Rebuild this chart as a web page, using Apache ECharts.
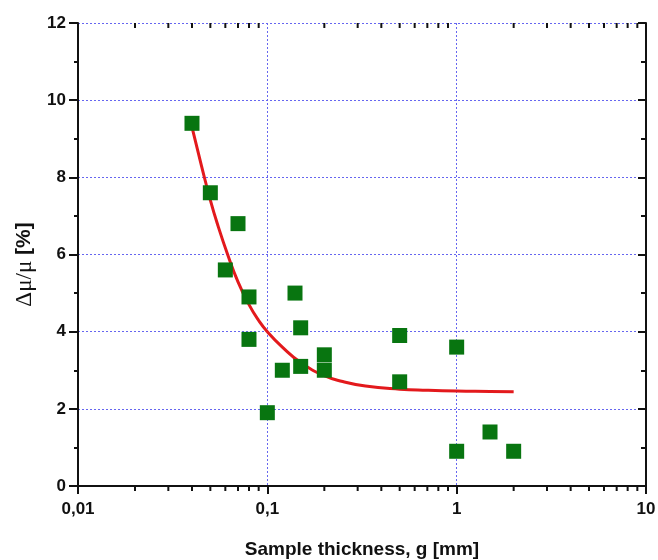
<!DOCTYPE html>
<html>
<head>
<meta charset="utf-8">
<script src="https://cdn.jsdelivr.net/npm/echarts@6/dist/echarts.min.js"></script>
<style>
html, body { margin: 0; padding: 0; background: #fff; }
#main { width: 658px; height: 560px; }
</style>
</head>
<body>
<div id="main"></div>
<script>
// measured points (thickness mm, delta mu / mu %)
var thickness = [0.04, 0.05, 0.07, 0.06, 0.08, 0.08, 0.1, 0.12, 0.14, 0.15, 0.15, 0.2, 0.2, 0.5, 0.5, 1, 1, 1.5, 2];
var deltaMu = [9.4, 7.6, 6.8, 5.6, 4.9, 3.8, 1.9, 3.0, 5.0, 4.1, 3.1, 3.4, 3.0, 3.9, 2.7, 3.6, 0.9, 1.4, 0.9];

// fitted curve
var fitX = [0.04, 0.045, 0.05, 0.055, 0.0617, 0.07, 0.08, 0.09, 0.1, 0.12, 0.15, 0.2, 0.25, 0.33, 0.5, 0.7, 1, 1.5, 2];
var fitY = [9.3, 8.28, 7.41, 6.73, 6.0, 5.29, 4.7, 4.29, 4.0, 3.6, 3.2, 2.86, 2.71, 2.59, 2.51, 2.48, 2.46, 2.45, 2.44];

// minor ticks of the log axis
var minorX = [0.02, 0.03, 0.04, 0.05, 0.06, 0.07, 0.08, 0.09,
	0.2, 0.3, 0.4, 0.5, 0.6, 0.7, 0.8, 0.9,
	2, 3, 4, 5, 6, 7, 8, 9];

var chart = echarts.init(document.getElementById('main'));

var points = [];
for (var i = 0; i < thickness.length; i++) {
	points.push([thickness[i], deltaMu[i]]);
}
var curve = [];
for (var j = 0; j < fitX.length; j++) {
	curve.push([fitX[j], fitY[j]]);
}
var minorData = [];
for (var k = 0; k < minorX.length; k++) {
	minorData.push([minorX[k], 0]);
}

var sans = 'Liberation Sans, Arial';
var gridLine = { show: true, lineStyle: { color: '#6666f0', type: [2, 2], width: 1 } };

var option = {
	animation: false,
	grid: { left: 78, right: 12, top: 23, bottom: 74, outerBoundsMode: 'none' },
	xAxis: [{
		type: 'log',
		logBase: 10,
		min: 0.01,
		max: 10,
		name: 'Sample thickness, g [mm]',
		nameLocation: 'middle',
		nameGap: 54,
		nameTextStyle: { fontFamily: sans, fontWeight: 'bold', fontSize: 19, color: '#111' },
		axisLine: { lineStyle: { color: '#111', width: 2 } },
		axisTick: { inside: false, length: 8, lineStyle: { color: '#111', width: 2 } },
		axisLabel: {
			margin: 15,
			fontFamily: sans,
			fontWeight: 'bold',
			fontSize: 17,
			color: '#111',
			formatter: function (v) {
				return String(Number(v.toPrecision(6))).replace('.', ',');
			}
		},
		splitLine: gridLine
	}, {
		type: 'log',
		logBase: 10,
		min: 0.01,
		max: 10,
		position: 'top',
		axisLine: { lineStyle: { color: '#111', width: 2 } },
		axisTick: { inside: true, length: 7, lineStyle: { color: '#111', width: 2 } },
		axisLabel: { show: false },
		splitLine: { show: false }
	}],
	yAxis: [{
		type: 'value',
		min: 0,
		max: 12,
		interval: 2,
		name: '{a|Δμ/μ }{b|[%]}',
		nameLocation: 'middle',
		nameGap: 40,
		nameTextStyle: {
			padding: [0, 20, 0, 0],
			rich: {
				a: { fontFamily: 'Liberation Serif, Times New Roman', fontSize: 23, color: '#111' },
				b: { fontFamily: sans, fontWeight: 'bold', fontSize: 21, color: '#111' }
			}
		},
		axisLine: { show: true, lineStyle: { color: '#111', width: 2 } },
		axisTick: { show: true, inside: false, length: 9, lineStyle: { color: '#111', width: 2 } },
		minorTick: { show: true, splitNumber: 2, length: 4, lineStyle: { color: '#111', width: 2 } },
		axisLabel: { margin: 12, fontFamily: sans, fontWeight: 'bold', fontSize: 17, color: '#111' },
		splitLine: gridLine
	}, {
		type: 'value',
		min: 0,
		max: 12,
		interval: 2,
		position: 'right',
		axisLine: { show: true, lineStyle: { color: '#111', width: 2 } },
		axisTick: { show: true, inside: true, length: 8, lineStyle: { color: '#111', width: 2 } },
		minorTick: { show: true, splitNumber: 2, length: 5, lineStyle: { color: '#111', width: 2 } },
		axisLabel: { show: false },
		splitLine: { show: false }
	}],
	series: [{
		// minor ticks on the bottom (outward) and top (inward) of the log axis
		type: 'custom',
		silent: true,
		clip: false,
		z: 5,
		renderItem: function (params, api) {
			var bottom = api.coord([api.value(0), 0]);
			var top = api.coord([api.value(0), 12]);
			return {
				type: 'group',
				children: [{
					type: 'line',
					shape: { x1: bottom[0], y1: bottom[1], x2: bottom[0], y2: bottom[1] + 5 },
					style: { stroke: '#111', lineWidth: 2 }
				}, {
					type: 'line',
					shape: { x1: top[0], y1: top[1], x2: top[0], y2: top[1] + 5 },
					style: { stroke: '#111', lineWidth: 2 }
				}]
			};
		},
		data: minorData
	}, {
		name: 'fit',
		type: 'line',
		smooth: 0.5,
		showSymbol: false,
		lineStyle: { color: '#e3191c', width: 3 },
		data: curve,
		z: 3
	}, {
		name: 'data',
		type: 'scatter',
		symbol: 'rect',
		symbolSize: 15,
		itemStyle: { color: '#087510', opacity: 1 },
		data: points,
		z: 4
	}]
};

chart.setOption(option);
</script>
</body>
</html>
